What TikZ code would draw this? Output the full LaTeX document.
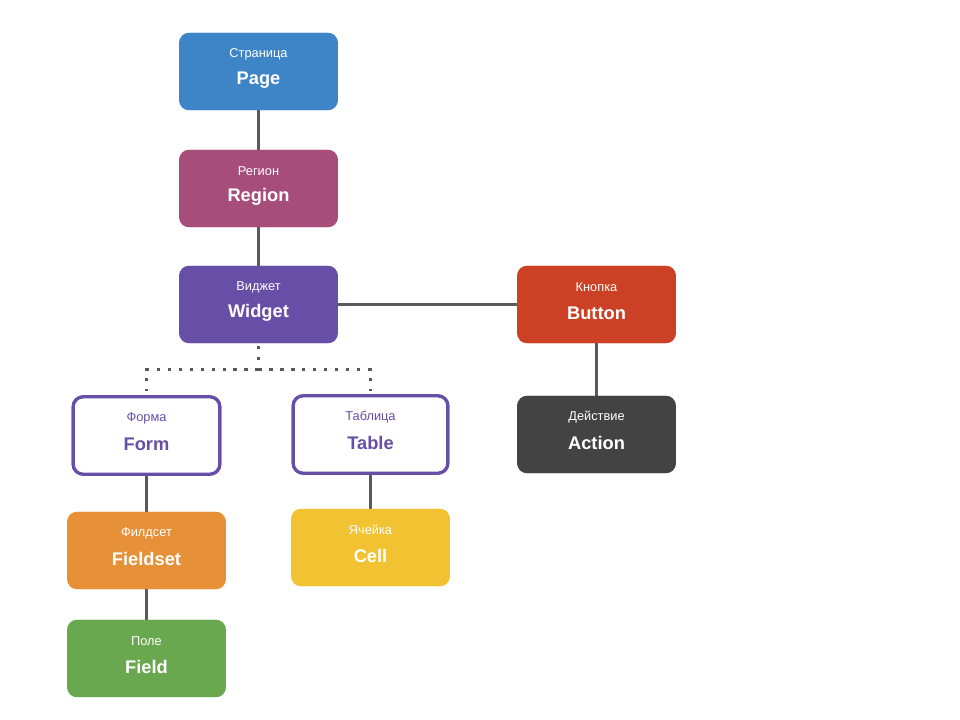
\documentclass[tikz,border=0pt]{standalone}
\usepackage{fontspec}
\setmainfont{Liberation Sans}
\definecolor{cPage}{HTML}{3D85C6}
\definecolor{cRegion}{HTML}{A64D79}
\definecolor{cWidget}{HTML}{674EA7}
\definecolor{cButton}{HTML}{CC4125}
\definecolor{cAction}{HTML}{434343}
\definecolor{cFieldset}{HTML}{E69138}
\definecolor{cCell}{HTML}{F1C232}
\definecolor{cField}{HTML}{6AA84F}
\definecolor{cLine}{HTML}{595959}
\tikzset{
  boxnode/.style={rounded corners=7.5pt, minimum width=119pt, minimum height=58pt, inner sep=0pt, draw=none},
  outlinebox/.style={rounded corners=7.5pt, minimum height=58pt, inner sep=0pt, draw=cWidget, line width=2.4pt, fill=white},
  smalltxt/.style={font=\fontsize{9.6}{11}\selectfont, inner sep=0pt},
  bigtxt/.style={font=\fontsize{13.7}{16}\selectfont\bfseries, inner sep=0pt},
  conn/.style={draw=cLine, line width=2.25pt},
  dotconn/.style={draw=cLine, line width=2.4pt, dash pattern=on 2.4pt off 5.8pt},
}
\newcommand{\labels}[4]{%
  \node[smalltxt, text=#2] (#1s) at ([yshift=13.1pt]#1.center) {#3};
  \node[bigtxt, text=#2] (#1b) at ([yshift=-6.4pt]#1.center) {#4};
}
\begin{document}
\begin{tikzpicture}[x=0.75pt, y=-0.75pt]
\useasboundingbox (0,0) rectangle (960,720);
\node[boxnode, fill=cPage] (page) at (258.5,71.5) {};
\node[boxnode, fill=cRegion] (region) at (258.5,188.5) {};
\node[boxnode, fill=cWidget] (widget) at (258.5,304.5) {};
\node[boxnode, fill=cButton] (button) at (596.5,304.5) {};
\node[boxnode, fill=cAction] (action) at (596.5,434.5) {};
\node[outlinebox, minimum width=110pt] (form) at (146.5,435.5) {};
\node[outlinebox, minimum width=116pt] (table) at (370.5,434.5) {};
\node[boxnode, fill=cFieldset] (fieldset) at (146.5,550.5) {};
\node[boxnode, fill=cCell] (cell) at (370.5,547.5) {};
\node[boxnode, fill=cField] (field) at (146.5,658.5) {};
\draw[conn] (page.south) -- (region.north);
\draw[conn] (region.south) -- (widget.north);
\draw[conn] (widget.east) -- (button.west);
\draw[conn] (button.south) -- (action.north);
\draw[conn] (form.south) -- (fieldset.north -| form.south);
\draw[conn] (table.south) -- (cell.north -| table.south);
\draw[conn] (fieldset.south) -- (field.north);
\coordinate (dmid) at (258.5,369.5);
\coordinate (dformtop) at (146.5,391);
\coordinate (dtabletop) at (370.5,391);
\draw[dotconn] ([yshift=-2pt]widget.south) -- (dmid);
\draw[dotconn] (dmid) -| (dformtop);
\draw[dotconn] (dmid) -| (dtabletop);
% redraw boxes over lines
\node[boxnode, fill=cPage] at (page) {};
\node[boxnode, fill=cRegion] at (region) {};
\node[boxnode, fill=cWidget] at (widget) {};
\node[boxnode, fill=cButton] at (button) {};
\node[boxnode, fill=cAction] at (action) {};
\node[outlinebox, minimum width=110pt] at (form) {};
\node[outlinebox, minimum width=116pt] at (table) {};
\node[boxnode, fill=cFieldset] at (fieldset) {};
\node[boxnode, fill=cCell] at (cell) {};
\node[boxnode, fill=cField] at (field) {};
\labels{page}{white}{Страница}{Page}
\labels{region}{white}{Регион}{Region}
\labels{widget}{white}{Виджет}{Widget}
\labels{button}{white}{Кнопка}{Button}
\labels{action}{white}{Действие}{Action}
\labels{form}{cWidget}{Форма}{Form}
\labels{table}{cWidget}{Таблица}{Table}
\labels{fieldset}{white}{Филдсет}{Fieldset}
\labels{cell}{white}{Ячейка}{Cell}
\labels{field}{white}{Поле}{Field}
\end{tikzpicture}
\end{document}
